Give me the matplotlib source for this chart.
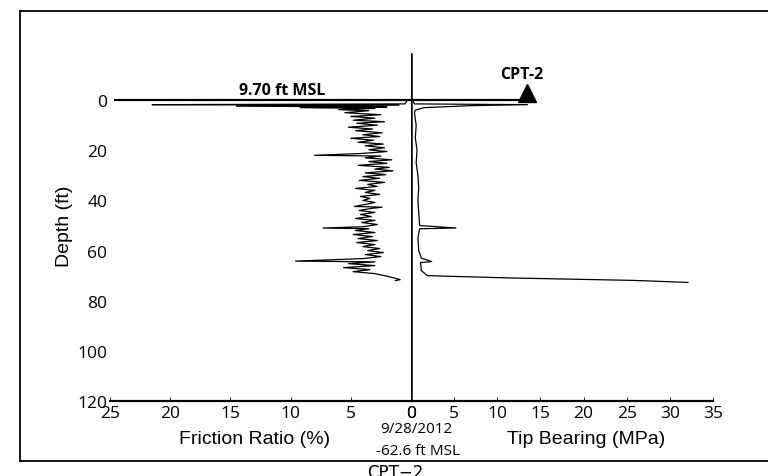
"""
Profilo CPT-2: friction ratio (sinistra) e tip bearing (destra) vs profondita'.
"""

import matplotlib
matplotlib.use("Agg")
import matplotlib.pyplot as plt


# ---------------------------------------------------------------------------
# Dati
# ---------------------------------------------------------------------------
fr_depth = [0.0, 1.5, 1.8, 2.0, 2.4, 2.7, 3.0, 3.3, 3.8, 4.2, 5.0, 5.8, 6.5,
            7.2, 8.0, 8.6, 9.2, 10.0, 10.8, 11.5, 12.2, 13.0, 13.8, 14.5,
            15.2, 16.0, 16.8, 17.5, 18.2, 19.0, 19.8, 20.5, 21.3, 22.0, 22.3,
            23.0, 23.8, 24.5, 25.2, 26.0, 26.8, 27.5, 28.2, 29.0, 29.7, 30.5,
            31.2, 32.0, 32.8, 33.6, 34.4, 35.2, 36.0, 36.8, 37.6, 38.4, 39.2,
            40.0, 40.8, 41.6, 42.4, 42.7, 43.2, 44.0, 44.8, 45.6, 46.4, 47.2,
            48.0, 48.8, 49.6, 50.5, 51.0, 51.3, 52.0, 52.8, 53.6, 54.4, 55.2,
            56.0, 56.8, 57.6, 58.4, 59.2, 60.0, 60.8, 61.6, 62.4, 63.2, 64.2,
            64.5, 65.2, 66.0, 66.8, 67.6, 68.4, 69.2, 70.0, 70.8, 71.6, 72.0]
fr_value = [0.3, 0.5, 21.5, 1.0, 14.5, 2.0, 9.2, 3.0, 6.0, 3.5, 5.5, 2.5, 5.0,
            3.0, 4.8, 2.2, 4.5, 2.8, 5.2, 3.2, 4.6, 2.4, 4.0, 2.6,
            5.0, 3.1, 4.4, 2.3, 3.8, 2.2, 3.5, 2.0, 4.2, 8.0, 2.5,
            3.8, 1.6, 3.5, 2.0, 4.4, 1.8, 3.0, 1.5, 3.8, 2.1, 4.0,
            2.6, 4.3, 2.2, 3.6, 2.8, 4.6, 3.0, 3.8, 2.6, 4.2, 3.4,
            4.0, 3.0, 3.8, 4.7, 2.4, 3.3, 4.3, 3.0, 4.2, 3.3, 4.6,
            3.0, 4.1, 2.8, 4.0, 7.3, 3.5, 4.6, 3.0, 4.8, 3.2, 4.4,
            2.8, 4.5, 3.0, 4.0, 2.6, 3.6, 2.3, 3.8, 2.5, 4.0, 9.6,
            3.0, 5.2, 3.0, 5.6, 3.4, 4.8, 3.0, 2.2, 1.5, 0.9, 1.3]

qc_depth = [0.0, 1.5, 1.8, 2.2, 3.0, 4.0, 5.0, 10.0, 15.0, 20.0, 25.0, 30.0,
            35.0, 40.0, 45.0, 50.0, 51.0, 51.3, 55.0, 60.0, 63.0, 64.4, 64.8,
            68.0, 70.0, 70.9, 71.9, 72.7]
qc_value = [0.2, 0.4, 13.5, 6.9, 1.5, 0.5, 0.4, 0.6, 0.5, 0.7, 0.6, 0.8,
            0.9, 0.8, 0.9, 1.0, 5.2, 1.0, 0.8, 0.9, 1.2, 2.4, 1.1,
            1.2, 1.9, 11.2, 25.8, 32.1]

depth_ticks = [0, 20, 40, 60, 80, 100, 120]
fr_ticks = [25, 20, 15, 10, 5, 0]
qc_ticks = [0, 5, 10, 15, 20, 25, 30, 35]

surface_fr = 24.7     # estensione linea del piano campagna (sinistra)
surface_qc = 13.5     # estensione a destra, fino al triangolo
marker_qc = 13.5

W, H = 768, 477


def frac(x0, y0, x1, y1):
    # pixel (origine in alto a sinistra) -> rect in frazioni di figura
    return [x0 / W, 1 - y1 / H, (x1 - x0) / W, (y1 - y0) / H]


fig = plt.figure(figsize=(W / 100, H / 100), dpi=100)

# ---------------------------------------------------------------------------
# Cornice esterna
# ---------------------------------------------------------------------------
frame = fig.add_axes(frac(20, 12, 770, 462))
frame.set_xticks([])
frame.set_yticks([])
for sp in frame.spines.values():
    sp.set_linewidth(1.3)
fig.text(395 / W, 1 - 464 / H, "CPT\u22122", ha="center", va="top",
         fontsize=12, family="DejaVu Sans")

# ---------------------------------------------------------------------------
# Assi: friction ratio (sx) e tip bearing (dx)
# ---------------------------------------------------------------------------
axl = fig.add_axes(frac(110, 51, 411, 402))
axr = fig.add_axes(frac(411, 51, 713, 402), sharey=axl)
for ax in (axl, axr):
    ax.patch.set_alpha(0)
    for s in ("top", "left", "right"):
        ax.spines[s].set_visible(False)
    ax.spines["bottom"].set_linewidth(1.6)
    ax.tick_params(axis="x", direction="in", length=3, width=0.6,
                   labelsize=12.5, pad=3)

axl.set_xlim(25, 0)
axl.set_ylim(120, -20)
axl.set_xticks(fr_ticks)
axl.set_xticklabels([str(t) for t in fr_ticks], family="Open Sans")
axl.set_yticks(depth_ticks)
axl.set_yticklabels([str(t) for t in depth_ticks], family="Open Sans")
axl.tick_params(axis="y", length=0, labelsize=12.5, pad=2)
axl.plot(fr_value, fr_depth, color="black", lw=0.9)
axl.hlines(0, 0, surface_fr, color="black", lw=1.6)
axl.set_ylabel("Depth (ft)", family="Liberation Sans", fontsize=14,
               labelpad=3)

axr.set_xlim(0, 35)
axr.set_xticks(qc_ticks)
axr.set_xticklabels([str(t) for t in qc_ticks], family="Open Sans")
axr.tick_params(axis="y", left=False, labelleft=False)
axr.plot(qc_value, qc_depth, color="black", lw=0.9)
axr.hlines(0, 0, surface_qc, color="black", lw=1.6)
axr.axvline(0, ymin=0, ymax=(120 + 18.4) / 140, color="black", lw=1.8)
axr.plot([marker_qc], [-3.0], marker="^", color="black", markersize=13,
         clip_on=False)

# ---------------------------------------------------------------------------
# Testi
# ---------------------------------------------------------------------------
fig.text(282 / W, 1 - 91 / H, "9.70 ft MSL", ha="center", va="center",
         fontsize=11.5, weight="bold", family="Open Sans")
fig.text(522 / W, 1 - 75 / H, "CPT-2", ha="center", va="center",
         fontsize=11.5, weight="bold", family="Open Sans")
fig.text(255 / W, 1 - 440 / H, "Friction Ratio (%)", ha="center",
         va="center", fontsize=14, family="Liberation Sans")
fig.text(586 / W, 1 - 440 / H, "Tip Bearing (MPa)", ha="center",
         va="center", fontsize=14, family="Liberation Sans")
fig.text(416 / W, 1 - 430 / H, "9/28/2012", ha="center", va="center",
         fontsize=11, family="Open Sans")
fig.text(418 / W, 1 - 452 / H, "-62.6 ft MSL", ha="center", va="center",
         fontsize=11, family="Open Sans")

fig.savefig("out.png", dpi=100)
